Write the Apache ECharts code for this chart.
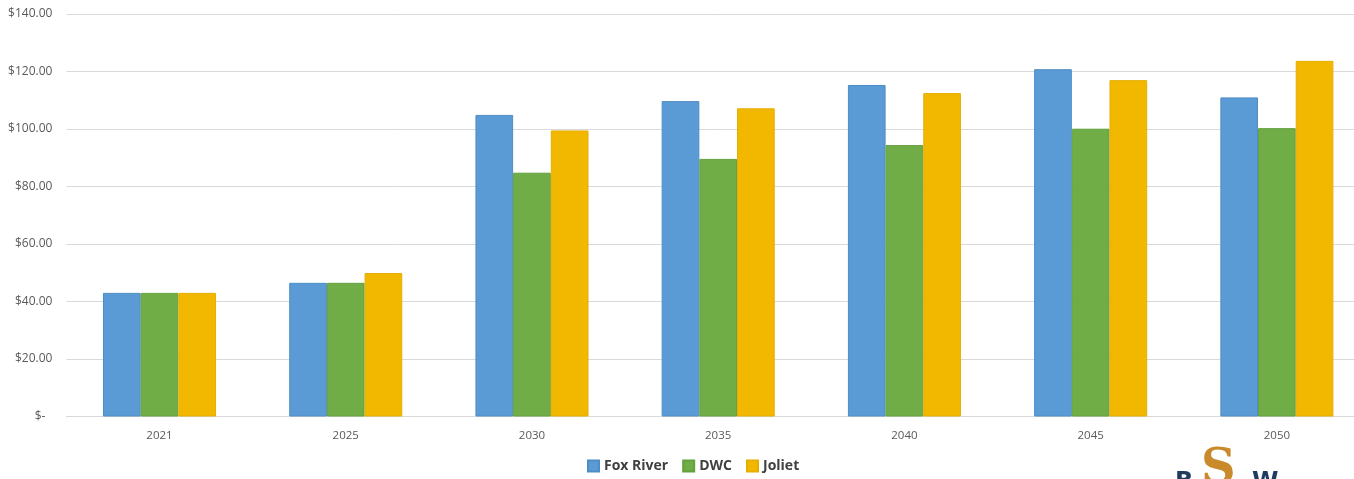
<!DOCTYPE html>
<html><head><meta charset="utf-8">
<script src="https://cdn.jsdelivr.net/npm/echarts@6/dist/echarts.min.js"></script>
<style>html,body{margin:0;padding:0;background:#fff;overflow:hidden;width:1354px;height:479px}#c{width:1372px;height:479px}</style>
</head><body><div id="c"></div>
<script>
const categories = ['2021','2025','2030','2035','2040','2045','2050'];
const foxRiver = [43.0, 46.5, 104.9, 109.7, 115.3, 120.8, 111.0];
const dwc      = [43.0, 46.5, 84.8, 89.6, 94.4, 100.1, 100.3];
const joliet   = [43.0, 49.9, 99.5, 107.2, 112.5, 117.0, 123.7];
const seriesNames = ['Fox River','DWC','Joliet'];
const colors = ['#5B9BD5','#70AD47','#F2B800'];
const borders = ['#4F8CC4','#64A03E','#E5AE00'];

const chart = echarts.init(document.getElementById('c'));
const font = 'Open Sans, Liberation Sans, sans-serif';
chart.setOption({
  animation:false,
  grid:{left:66.4,right:2,top:14,bottom:62.5},
  legend:{bottom:1,left:582,itemWidth:11,itemHeight:11,itemGap:14,icon:'rect',
    textStyle:{fontFamily:font,fontSize:14,fontWeight:'bold',color:'#404040'},
    data:seriesNames},
  xAxis:{type:'category',data:categories,
    axisLine:{lineStyle:{color:'#D9D9D9'}},axisTick:{show:false},
    axisLabel:{color:'#595959',fontFamily:font,fontSize:11.5,margin:13}},
  yAxis:{type:'value',min:0,max:140,interval:20,
    axisLine:{show:false},axisTick:{show:false},
    splitLine:{lineStyle:{color:'#D9D9D9'}},
    axisLabel:{color:'#595959',fontFamily:font,fontSize:12,margin:14,
      formatter:v=> v===0 ? '{z|$-}' : '$'+v.toFixed(2),
      rich:{z:{fontFamily:font,fontSize:12,color:'#595959',padding:[0,7,0,0]}}}},
  graphic:[
    {type:'text',left:1175,top:471,style:{text:'B',fontFamily:'DejaVu Sans',fontWeight:'bold',fontSize:24,fill:'#1F3A5F'}},
    {type:'text',left:1201,top:447,style:{text:'S',fontFamily:'DejaVu Serif',fontWeight:'bold',fontSize:48,fill:'#C98A2B'}},
    {type:'text',left:1252,top:471,style:{text:'W',fontFamily:'DejaVu Sans',fontWeight:'bold',fontSize:24,fill:'#1F3A5F'}}
  ],
  series:[foxRiver,dwc,joliet].map((d,i)=>({
    name:seriesNames[i],type:'bar',data:d,barGap:'0%',barCategoryGap:'39.3%',
    itemStyle:{color:colors[i],borderColor:borders[i],borderWidth:1}
  }))
});
</script></body></html>
